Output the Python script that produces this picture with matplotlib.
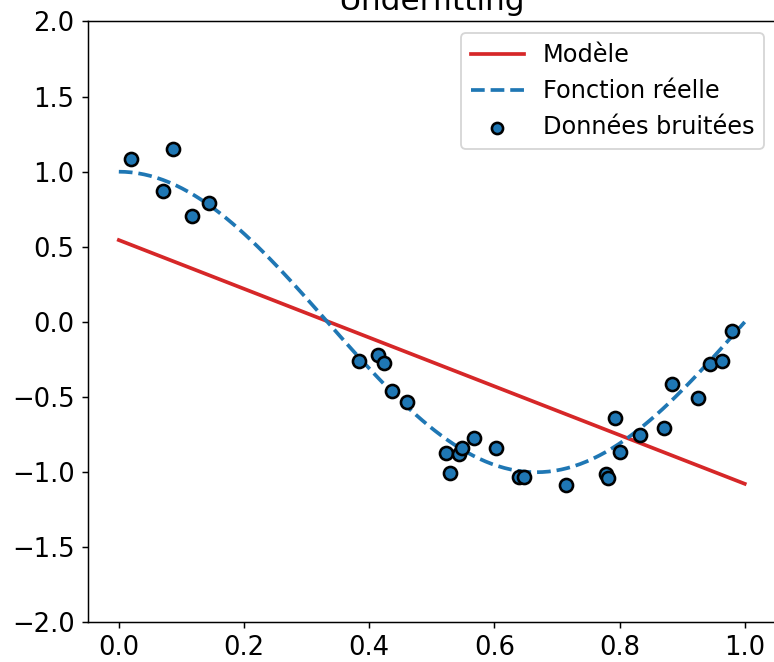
"""Underfitting demo: degree-1 model vs. true cosine function on noisy samples."""
import numpy as np
import matplotlib
matplotlib.use("Agg")
import matplotlib.pyplot as plt

# Noisy samples (x, y)
X_SAMPLES = [0.020, 0.070, 0.086, 0.117, 0.144, 0.383, 0.414, 0.424, 0.437, 0.461,
             0.522, 0.529, 0.544, 0.548, 0.567, 0.603, 0.639, 0.647, 0.715, 0.779,
             0.781, 0.792, 0.800, 0.833, 0.871, 0.884, 0.925, 0.945, 0.964, 0.979]
Y_SAMPLES = [1.085, 0.873, 1.149, 0.707, 0.789, -0.260, -0.222, -0.271, -0.462, -0.533,
             -0.873, -1.004, -0.882, -0.837, -0.773, -0.837, -1.033, -1.033, -1.082, -1.011,
             -1.037, -0.637, -0.867, -0.755, -0.704, -0.411, -0.507, -0.277, -0.262, -0.062]

# Fitted linear model: y = intercept + slope * x
MODEL_INTERCEPT = 0.545
MODEL_SLOPE = -1.622


def true_fun(x):
    return np.cos(1.5 * np.pi * x)


plt.rcParams["font.size"] = 14
DPI = 400 / 3

x_test = np.linspace(0, 1, 100)

fig = plt.figure(figsize=(774 / DPI, 662 / DPI), dpi=DPI)
ax = fig.add_axes([0.1131, 0.0597, 0.8895, 0.9079])

ax.plot(x_test, MODEL_INTERCEPT + MODEL_SLOPE * x_test,
        color="tab:red", lw=2, label="Modèle")
ax.plot(x_test, true_fun(x_test), color="tab:blue", lw=2, ls="--",
        label="Fonction réelle")
ax.scatter(X_SAMPLES, Y_SAMPLES, s=50, color="tab:blue", edgecolors="black",
           linewidths=1.4, zorder=3, label="Données bruitées")

ax.set_xlim(-0.05, 1.05)
ax.set_ylim(-2, 2)
ax.set_title("Underfitting")
ax.legend(loc="upper right", fontsize=13, handlelength=2.2, markerscale=0.85)

fig.savefig("out.png", dpi=DPI)
